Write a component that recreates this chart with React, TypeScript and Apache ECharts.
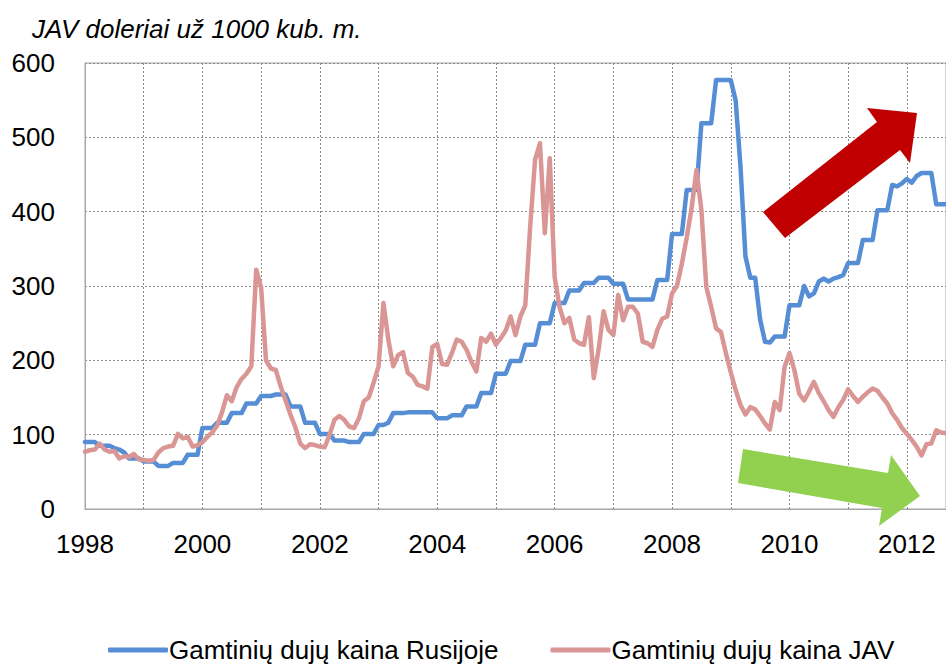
import React, { useEffect, useRef } from "react";
import * as echarts from "echarts";

const chartTitle = "JAV doleriai už 1000 kub. m.";
const seriesNames = ["Gamtinių dujų kaina Rusijoje", "Gamtinių dujų kaina JAV"];
const seriesColors = ["#558ED5", "#D99694"];
const startYear = 1998;
const yMin = 0;
const yMax = 600;
const yStep = 100;

// Monthly price of natural gas in Russia (USD per 1000 m3), Jan 1998 – Sep 2012
const russia = [
  90, 90, 90, 85, 85, 85, 82, 80, 76, 68, 68, 68,
  64, 64, 64, 58, 58, 58, 62, 62, 62, 73, 73, 73,
  109, 109, 109, 116, 116, 116, 129, 129, 129, 142, 142, 142,
  152, 152, 152, 154, 154, 154, 138, 138, 138, 116, 116, 116,
  101, 101, 101, 92, 92, 92, 90, 90, 90, 101, 101, 101,
  113, 113, 116, 129, 129, 129, 130, 130, 130, 130, 130, 130,
  122, 122, 122, 126, 126, 126, 138, 138, 138, 156, 156, 156,
  182, 182, 182, 199, 199, 199, 221, 221, 221, 250, 250, 250,
  277, 277, 277, 294, 294, 294, 304, 304, 304, 311, 311, 311,
  303, 303, 303, 282, 282, 282, 282, 282, 282, 308, 308, 308,
  370, 370, 370, 429, 429, 429, 519, 519, 519, 577, 577, 577,
  577, 550, 460, 340, 311, 311, 255, 225, 224, 232, 232, 232,
  274, 274, 274, 300, 286, 290, 306, 310, 306, 310, 312, 315,
  331, 331, 331, 362, 362, 362, 402, 402, 402, 436, 434, 438,
  444, 439, 448, 452, 452, 452, 410, 410, 410,
];

// Monthly price of natural gas in the USA (USD per 1000 m3)
const usa = [
  77, 79, 80, 88, 80, 77, 78, 68, 71, 70, 74, 67,
  66, 65, 66, 76, 82, 84, 85, 101, 95, 97, 84, 86,
  90, 97, 103, 112, 130, 153, 145, 164, 175, 182, 192, 322,
  298, 200, 189, 187, 165, 146, 127, 110, 88, 82, 87, 86,
  84, 83, 100, 120, 125, 120, 111, 109, 122, 145, 150, 170,
  192, 277, 228, 192, 207, 211, 183, 178, 167, 165, 162, 218,
  222, 195, 194, 210, 228, 225, 214, 198, 185, 230, 225, 236,
  221, 230, 240, 259, 234, 259, 274, 380, 470, 492, 371, 472,
  312, 272, 250, 257, 228, 223, 221, 258, 176, 215, 266, 241,
  234, 288, 254, 272, 272, 263, 225, 223, 218, 241, 256, 259,
  290, 300, 330, 365, 405, 456, 402, 299, 272, 243, 238, 210,
  184, 160, 140, 127, 137, 134, 125, 115, 107, 144, 133, 191,
  210, 187, 155, 146, 158, 171, 156, 145, 133, 124, 137, 147,
  161, 152, 144, 151, 157, 162, 159, 150, 142, 129, 120, 109,
  101, 93, 84, 72, 87, 88, 106, 103, 102,
];

const months = russia.map(
  (_, i) => `${startYear + Math.floor(i / 12)}-${String((i % 12) + 1).padStart(2, "0")}`
);

// Decorative trend arrows (pixel polygons)
const redArrow = [
  [763, 212], [877, 122], [867, 108], [917, 113], [910, 163], [900, 150], [785, 238],
];
const greenArrow = [
  [743, 449], [888, 473], [891, 455], [920, 496], [879, 526], [882, 508], [738, 483],
];

const FONT = "'Liberation Sans', Arial, Helvetica, sans-serif";

export default function App() {
  const ref = useRef<HTMLDivElement>(null);

  useEffect(() => {
    if (!ref.current) return;
    const chart = echarts.init(ref.current, undefined, { renderer: "svg" });
    const gridLine = { show: true, lineStyle: { color: "#8a8a8a", type: [2, 2] as any, width: 1 } };
    chart.setOption({
      animation: false,
      backgroundColor: "#ffffff",
      title: {
        text: chartTitle,
        left: 27,
        top: 11,
        textStyle: { fontFamily: FONT, fontSize: 26, fontStyle: "italic", fontWeight: "normal", color: "#000" },
      },
      grid: {
        left: 85,
        right: -1,
        top: 63,
        bottom: 155,
        show: true,
        borderColor: "#a6a6a6",
        borderWidth: 1,
      },
      legend: {
        top: 632,
        left: 103,
        itemWidth: 60,
        itemHeight: 5,
        itemGap: 52,
        textStyle: { fontFamily: FONT, fontSize: 26, color: "#000", padding: [0, 0, 0, -4] },
        data: seriesNames.map((n) => ({ name: n, icon: "roundRect" })),
      },
      xAxis: {
        type: "category",
        data: months,
        boundaryGap: false,
        axisLine: { show: true, lineStyle: { color: "#a6a6a6", width: 1 } },
        axisTick: { show: false },
        axisLabel: {
          interval: 23,
          formatter: (v: string) => v.slice(0, 4),
          fontFamily: FONT,
          fontSize: 26,
          color: "#000",
          margin: 22,
        },
        splitLine: { ...gridLine, interval: 11 },
      },
      yAxis: {
        type: "value",
        min: yMin,
        max: yMax,
        interval: yStep,
        axisLine: { show: true, lineStyle: { color: "#a6a6a6", width: 1 } },
        axisTick: { show: false },
        axisLabel: { fontFamily: FONT, fontSize: 26, color: "#000", margin: 30 },
        splitLine: gridLine,
      },
      series: [
        {
          name: seriesNames[0],
          type: "line",
          data: russia,
          symbol: "none",
          color: seriesColors[0],
          lineStyle: { width: 4.5, color: seriesColors[0], cap: "round", join: "round" },
        },
        {
          name: seriesNames[1],
          type: "line",
          data: usa,
          symbol: "none",
          color: seriesColors[1],
          lineStyle: { width: 4.5, color: seriesColors[1], cap: "round", join: "round" },
        },
      ],
      graphic: [
        { type: "polygon", shape: { points: redArrow }, style: { fill: "#C00000" }, z: 10 },
        { type: "polygon", shape: { points: greenArrow }, style: { fill: "#92D050" }, z: 10 },
      ],
    });
    return () => chart.dispose();
  }, []);

  return (
    <div
      ref={ref}
      style={{ position: "fixed", left: 0, top: 0, width: 946, height: 664, background: "#fff" }}
    />
  );
}
